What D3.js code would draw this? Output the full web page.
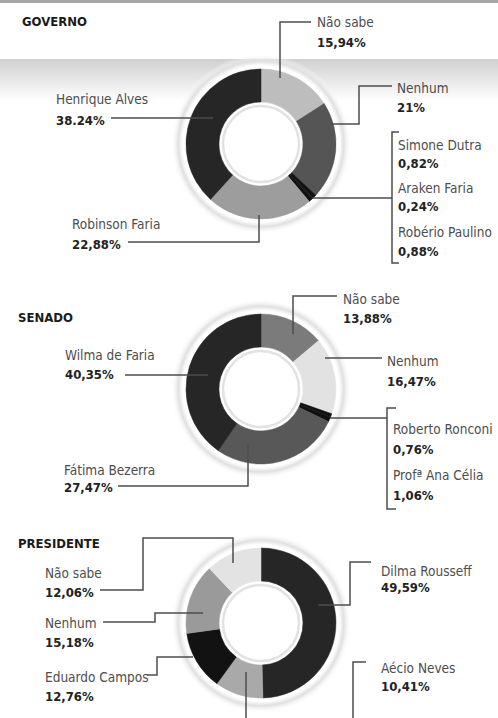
<!DOCTYPE html>
<html>
<head>
<meta charset="utf-8">
<script src="https://cdn.jsdelivr.net/npm/d3@7"></script>
<style>
  body { margin: 0; background: #fff; }
  svg { display: block; }
  .title { font-family: 'DejaVu Sans Condensed', sans-serif; font-weight: bold; font-size: 13px; fill: #1a1a1a; }
  .name { font-family: 'DejaVu Sans Condensed', sans-serif; font-size: 13.5px; fill: #4d4d4d; }
  .pct { font-family: 'DejaVu Sans Condensed', sans-serif; font-weight: bold; font-size: 13px; fill: #222; }
  .leader { fill: none; stroke: #4d4d4d; stroke-width: 1.5; }
</style>
</head>
<body>
<svg width="498" height="718"></svg>
<script>
// poll results, clockwise from 12 o'clock
const govNames = ['Não sabe', 'Nenhum', 'Simone Dutra', 'Araken Faria', 'Robério Paulino', 'Robinson Faria', 'Henrique Alves']
const govValues = [15.94, 21, 0.82, 0.24, 0.88, 22.88, 38.24]

const senNames = ['Não sabe', 'Nenhum', 'Roberto Ronconi', 'Profª Ana Célia', 'Fátima Bezerra', 'Wilma de Faria']
const senValues = [13.88, 16.47, 0.76, 1.06, 27.47, 40.35]

const preNames = ['Dilma Rousseff', 'Aécio Neves', 'Eduardo Campos', 'Nenhum', 'Não sabe']
const preValues = [49.59, 10.41, 12.76, 15.18, 12.06]

// grey shades, same order as the values
const govShades = ['#bdbdbd', '#555555', '#111111', '#111111', '#111111', '#9d9d9d', '#262626']
const senShades = ['#7b7b7b', '#e2e2e2', '#101010', '#101010', '#585858', '#262626']
const preShades = ['#262626', '#a9a9a9', '#121212', '#9a9a9a', '#e3e3e3']

const ptBR = d3.formatLocale({ decimal: ',', thousands: '.', grouping: [3], currency: ['R$', ''] })
const fmt = (v) => Number.isInteger(v) ? `${v}%` : `${ptBR.format('.2f')(v)}%`

// label placement: x, name baseline, gap to the percent line, leader path
const govLayout = [
  { x: 317, y: 27, dy: 20, path: [[280, 78], [280, 22], [311, 22]] },
  { x: 397, y: 93, dy: 19, path: [[330, 124], [359, 124], [359, 86], [392, 86]] },
  { x: 398, y: 150, dy: 18 },
  { x: 398, y: 193, dy: 18 },
  { x: 398, y: 237, dy: 19 },
  { x: 72, y: 229, dy: 20, path: [[128, 242], [259, 242], [259, 215]] },
  { x: 56, y: 104, dy: 21, path: [[111, 118], [213, 118]] }
]
const senLayout = [
  { x: 343, y: 304, dy: 19, path: [[293, 334], [293, 296], [337, 296]] },
  { x: 387, y: 366, dy: 20, path: [[325, 358], [382, 358]] },
  { x: 393, y: 434, dy: 20 },
  { x: 393, y: 480, dy: 20 },
  { x: 64, y: 475, dy: 17, path: [[118, 486], [248, 486], [248, 445]] },
  { x: 65, y: 360, dy: 19, path: [[125, 375], [208, 375]] }
]
const preLayout = [
  { x: 381, y: 576, dy: 16, path: [[318, 605], [350, 605], [350, 562], [371, 562]] },
  { x: 381, y: 673, dy: 18, path: [[246, 672], [246, 730], [353, 730], [353, 662], [366, 662]] },
  { x: 45, y: 682, dy: 19, path: [[147, 675], [157, 675], [157, 657], [193, 657]] },
  { x: 45, y: 628, dy: 19, path: [[103, 622], [155, 622], [155, 613], [203, 613]] },
  { x: 45, y: 578, dy: 19, path: [[100, 590], [143, 590], [143, 538], [233, 538], [233, 563]] }
]

const charts = [
  {
    title: 'GOVERNO', tx: 22, ty: 26, cy: 144, names: govNames, values: govValues, shades: govShades, layout: govLayout,
    bracket: [[399, 132], [392, 132], [392, 263], [399, 263]], bracketLeader: [[313, 198], [392, 198]]
  },
  {
    title: 'SENADO', tx: 18, ty: 322, cy: 389, names: senNames, values: senValues, shades: senShades, layout: senLayout,
    bracket: [[396, 408], [387, 408], [387, 509], [396, 509]], bracketLeader: [[330, 418], [387, 418]]
  },
  { title: 'PRESIDENTE', tx: 18, ty: 548, cy: 623, names: preNames, values: preValues, shades: preShades, layout: preLayout }
]

const svg = d3.select('svg')
const width = +svg.attr('width')
const cx = 261
const outerR = 75
const innerR = 42

const defs = svg.append('defs')
const band = defs.append('linearGradient').attr('id', 'band').attr('x1', 0).attr('y1', 0).attr('x2', 0).attr('y2', 1)
band.append('stop').attr('offset', 0).attr('stop-color', '#d0d0d0')
band.append('stop').attr('offset', 1).attr('stop-color', '#ffffff')

const glow = defs.append('radialGradient').attr('id', 'glow')
glow.append('stop').attr('offset', 0.83).attr('stop-color', '#fff')
glow.append('stop').attr('offset', 0.87).attr('stop-color', '#fff')
glow.append('stop').attr('offset', 0.92).attr('stop-color', '#e0e0e0')
glow.append('stop').attr('offset', 1).attr('stop-color', '#fff').attr('stop-opacity', 0)

// scanned page background
svg.append('rect').attr('width', width).attr('height', 718).attr('fill', '#fff')
svg.append('rect').attr('width', width).attr('height', 3).attr('fill', '#a6a6a6')
svg.append('rect').attr('y', 59).attr('width', width).attr('height', 42).attr('fill', 'url(#band)')

const pie = d3.pie().sort(null)
const arc = d3.arc().innerRadius(innerR).outerRadius(outerR)
const line = d3.line()

charts.forEach((c) => {
  const g = svg.append('g')

  g.append('circle').attr('cx', cx).attr('cy', c.cy).attr('r', 90).attr('fill', 'url(#glow)')

  g.append('g')
    .attr('transform', `translate(${cx},${c.cy})`)
    .selectAll('path')
    .data(pie(c.values))
    .join('path')
    .attr('d', arc)
    .attr('fill', (d, i) => c.shades[i])
    .attr('stroke', (d, i) => c.shades[i])
    .attr('stroke-width', 0.5)

  g.append('circle').attr('cx', cx).attr('cy', c.cy).attr('r', 38)
    .attr('fill', '#fff').attr('stroke', '#e2e2e2').attr('stroke-width', 2.5)

  g.append('text').attr('class', 'title').attr('x', c.tx).attr('y', c.ty).text(c.title)

  const pctText = c.values.map(fmt)
  if (c.title === 'GOVERNO') pctText[6] = '38.24%' // printed with a point in the original

  c.layout.forEach((l, i) => {
    if (l.path) g.append('path').attr('class', 'leader').attr('d', line(l.path))
    g.append('text').attr('class', 'name').attr('x', l.x).attr('y', l.y).text(c.names[i])
    g.append('text').attr('class', 'pct').attr('x', l.x).attr('y', l.y + l.dy).text(pctText[i])
  })

  if (c.bracket) {
    g.append('path').attr('class', 'leader').attr('d', line(c.bracket))
    g.append('path').attr('class', 'leader').attr('d', line(c.bracketLeader))
  }
})
</script>
</body>
</html>
